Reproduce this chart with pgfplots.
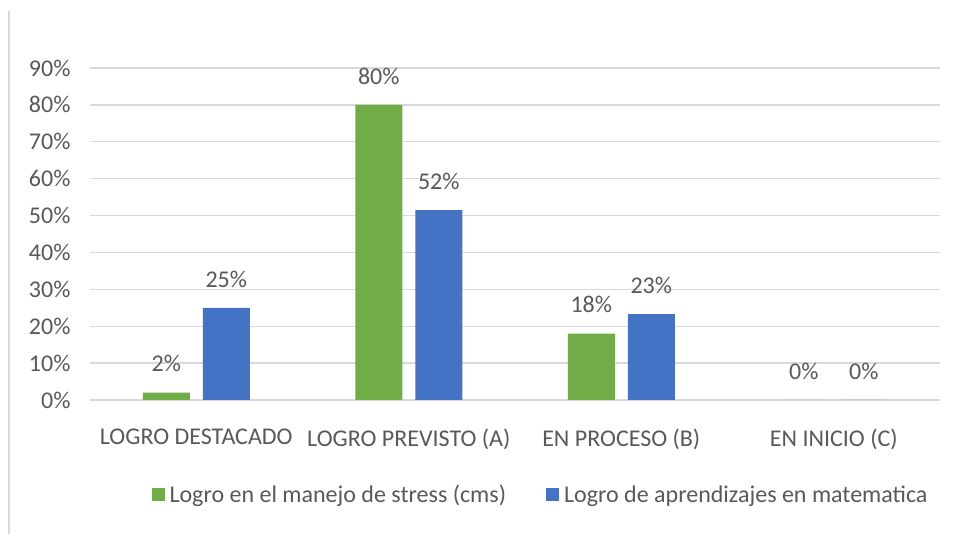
\documentclass[border=0pt]{standalone}
\usepackage{pgfplots}
\pgfplotsset{compat=1.18}
\usepackage{fontspec}
\setmainfont{Carlito}
\definecolor{g1}{HTML}{70AD47}
\definecolor{b1}{HTML}{4472C4}
\definecolor{txt}{HTML}{595959}
\definecolor{grd}{HTML}{D9D9D9}
\newcommand{\fs}{\fontsize{24}{28}\selectfont}
\begin{document}
\begin{tikzpicture}
\path[fill=white] (0,0) rectangle (956pt,534pt);
\draw[grd, line width=2pt] (9pt,0pt) -- (9pt,523pt);
\begin{axis}[
  at={(90pt,134pt)}, anchor=south west,
  scale only axis, width=850pt, height=332pt,
  xmin=-0.5, xmax=3.5, ymin=0, ymax=90,
  ytick={0,10,...,90},
  yticklabels={0\%,10\%,20\%,30\%,40\%,50\%,60\%,70\%,80\%,90\%},
  xtick={0,1,2,3},
  xticklabels={LOGRO DESTACADO,LOGRO PREVISTO (A),EN PROCESO (B),EN INICIO (C)},
  axis line style={draw=none},
  major tick length=0pt,
  ymajorgrids, grid style={grd, line width=1.3pt},
  ticklabel style={font=\fs, text=txt},
  yticklabel style={xshift=-16pt},
  xticklabel style={yshift=-25pt},
  ybar=13pt, bar width=47pt,
  clip=false,
  point meta=explicit symbolic,
  nodes near coords={\pgfplotspointmeta\%},
  nodes near coords style={font=\fs, text=txt, yshift=17pt},
  legend style={draw=none, at={(0.53,-0.286)}, anchor=center, font=\fs, text=txt,
    /tikz/every even column/.append style={column sep=38pt},
    /tikz/every odd column/.append style={column sep=3pt}},
  legend columns=2,
  legend image code/.code={\fill[#1] (0pt,-6pt) rectangle (13pt,7pt);},
]
\addplot[fill=g1, draw=none] table[meta=l] {
x y l
0 2 2
1 80 80
2 18 18
3 0 0
};
\addlegendentry{Logro en el manejo de stress (cms)}
\addplot[fill=b1, draw=none] table[meta=l] {
x y l
0 25 25
1 51.5 52
2 23.3 23
3 0 0
};
\addlegendentry{Logro de aprendizajes en matematica}
\end{axis}
\end{tikzpicture}
\end{document}
